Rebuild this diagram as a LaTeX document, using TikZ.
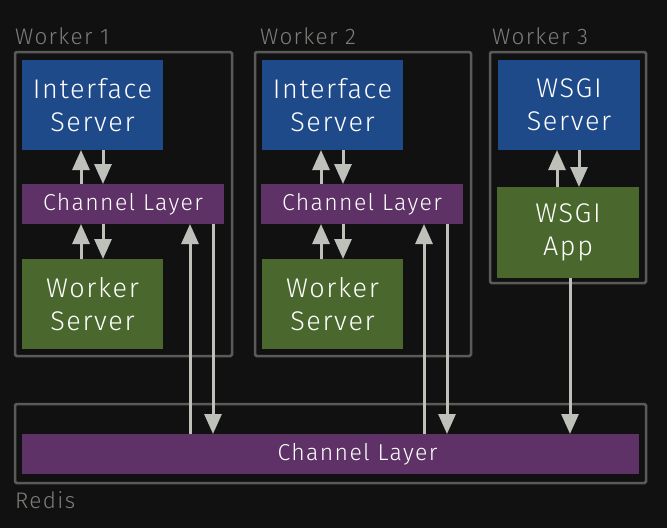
\documentclass[tikz,border=0pt]{standalone}
\usepackage{fontspec}
\setmainfont{Fira Sans}[UprightFont={* Light}, LetterSpace=6]
\usetikzlibrary{arrows.meta}
\definecolor{bg}{RGB}{17,17,17}
\definecolor{frame}{RGB}{90,90,88}
\definecolor{isblue}{RGB}{31,74,138}
\definecolor{clpurple}{RGB}{94,50,102}
\definecolor{wsgreen}{RGB}{74,104,46}
\definecolor{arrowc}{RGB}{190,192,186}
\definecolor{lbl}{RGB}{125,125,122}
\tikzset{
  box/.style={anchor=north west, inner sep=0pt, outer sep=0pt, text=white, align=center,
    font=\fontsize{27}{33}\selectfont},
  isbox/.style={box, fill=isblue, minimum width=141pt, minimum height=90pt},
  wsbox/.style={box, fill=wsgreen, minimum width=141pt, minimum height=90pt},
  clbox/.style={box, fill=clpurple, minimum height=40pt, font=\fontsize{23}{26}\selectfont},
  frm/.style={draw=frame, line width=2.5pt, rounded corners=1.5pt},
  grp/.style={anchor=base west, text=lbl, inner sep=0pt, font=\fontsize{22.5}{24}\selectfont},
  arr/.style={draw=arrowc, line width=3pt, -{Triangle[length=20pt,width=17pt]}},
}
\begin{document}
\begin{tikzpicture}[x=1pt,y=-1pt]
\useasboundingbox[fill=bg] (0,0) rectangle (667,528);
% frames
\draw[frm] (15,52) rectangle (232,356);
\draw[frm] (255,52) rectangle (471,356);
\draw[frm] (490,52) rectangle (646,283);
\draw[frm] (15,404) rectangle (646,483);
\node[grp] (g1) at (15,44) {Worker 1};
\node[grp] (g2) at (260,44) {Worker 2};
\node[grp] (g3) at (492,44) {Worker 3};
\node[grp] (g4) at (15,508) {Redis};
% worker 1
\node[isbox] (is1) at (22,60) {Interface\\Server};
\node[clbox, minimum width=202pt] (cl1) at (22,184) {Channel Layer};
\node[wsbox] (ws1) at (22,259) {Worker\\Server};
% worker 2
\node[isbox] (is2) at (262,60) {Interface\\Server};
\node[clbox, minimum width=202pt] (cl2) at (261,184) {Channel Layer};
\node[wsbox] (ws2) at (262,259) {Worker\\Server};
% worker 3
\node[isbox, minimum width=142pt] (is3) at (498,60) {WSGI\\Server};
\node[wsbox, minimum width=142pt, minimum height=91pt] (ws3) at (497,187) {WSGI\\App};
% bottom channel layer
\node[clbox, minimum width=617pt] (clb) at (22,434) {\hspace*{54pt}Channel Layer};
% x positions
\coordinate (a1) at (81,0);   \coordinate (b1) at (103,0);
\coordinate (c1) at (190,0);  \coordinate (d1) at (213,0);
\coordinate (a2) at (321,0);  \coordinate (b2) at (343,0);
\coordinate (c2) at (424,0);  \coordinate (d2) at (447,0);
\coordinate (a3) at (557,0);  \coordinate (b3) at (579,0);
\coordinate (e3) at (570,0);
% worker 1 arrows
\draw[arr] (a1 |- cl1.north) -- (a1 |- is1.south);
\draw[arr] (b1 |- is1.south) -- (b1 |- cl1.north);
\draw[arr] (a1 |- ws1.north) -- (a1 |- cl1.south);
\draw[arr] (b1 |- cl1.south) -- (b1 |- ws1.north);
\draw[arr] (c1 |- clb.north) -- (c1 |- cl1.south);
\draw[arr] (d1 |- cl1.south) -- (d1 |- clb.north);
% worker 2 arrows
\draw[arr] (a2 |- cl2.north) -- (a2 |- is2.south);
\draw[arr] (b2 |- is2.south) -- (b2 |- cl2.north);
\draw[arr] (a2 |- ws2.north) -- (a2 |- cl2.south);
\draw[arr] (b2 |- cl2.south) -- (b2 |- ws2.north);
\draw[arr] (c2 |- clb.north) -- (c2 |- cl2.south);
\draw[arr] (d2 |- cl2.south) -- (d2 |- clb.north);
% worker 3 arrows
\draw[arr] (a3 |- ws3.north) -- (a3 |- is3.south);
\draw[arr] (b3 |- is3.south) -- (b3 |- ws3.north);
\draw[arr] (e3 |- ws3.south) -- (e3 |- clb.north);
\end{tikzpicture}
\end{document}
